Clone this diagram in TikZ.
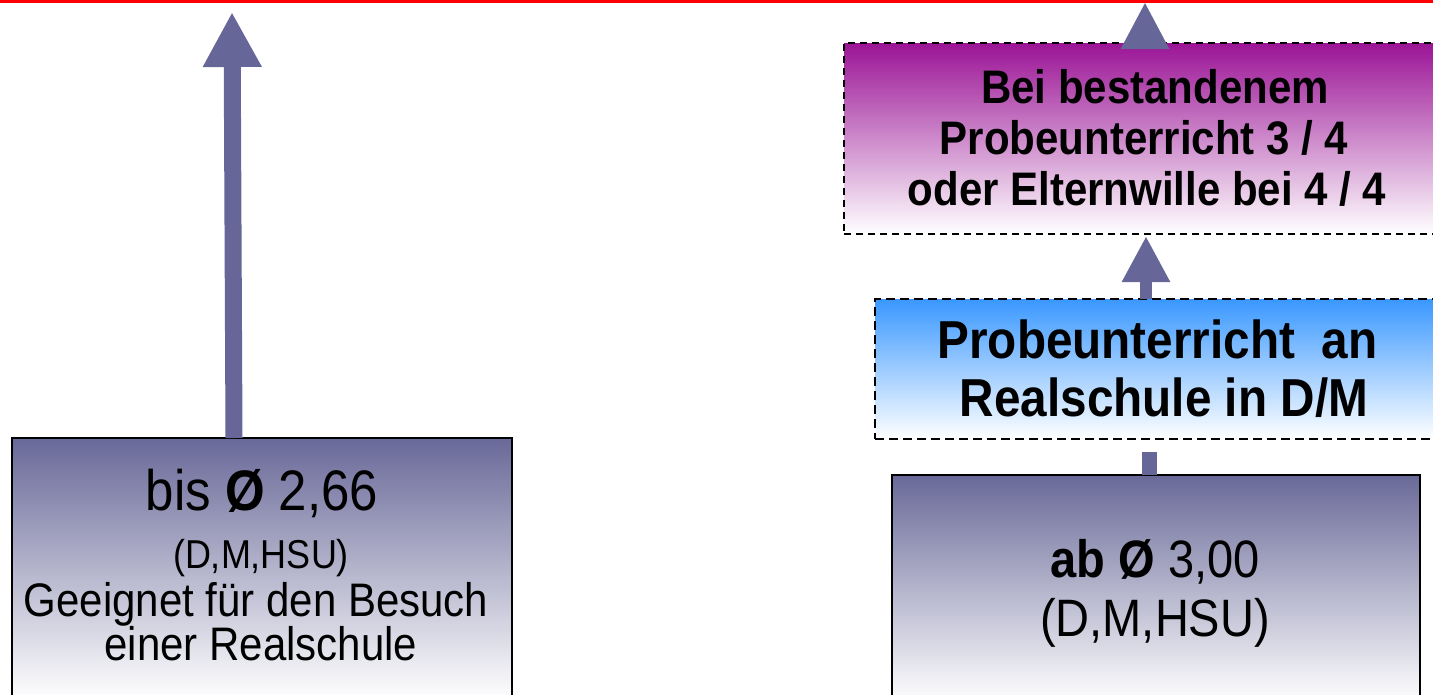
\documentclass[tikz,border=0pt]{standalone}
\usepackage{fontspec}
\setmainfont{Liberation Sans}
\usetikzlibrary{arrows.meta,calc}
\definecolor{navy}{RGB}{105,105,153}
\definecolor{arrowc}{RGB}{102,102,153}
\definecolor{purp}{RGB}{155,20,150}
\definecolor{skyb}{RGB}{58,152,255}
\tikzset{
  boxbase/.style={rectangle, anchor=north west, inner sep=0pt, outer sep=0pt},
  navybox/.style={boxbase, draw=black, line width=2pt, top color=navy, bottom color=white},
  purpbox/.style={boxbase, draw=black, line width=1.8pt, dash pattern=on 7pt off 5pt, top color=purp, bottom color=white},
  bluebox/.style={boxbase, draw=black, line width=1.8pt, dash pattern=on 9pt off 5pt, top color=skyb, bottom color=white},
  txt/.style={anchor=base, inner sep=0pt, outer sep=0pt, text=black, yscale=1.12, transform shape},
  bigarrow/.style={draw=arrowc, line width=17pt, -{Triangle[length=55pt,width=55pt,fill=arrowc]}},
  midarrow/.style={draw=arrowc, line width=12pt, -{Triangle[length=46pt,width=45pt,fill=arrowc]}},
  stub/.style={draw=arrowc, line width=15pt}
}
\begin{document}
\begin{tikzpicture}[x=1pt,y=-1pt]
\useasboundingbox (0,0) rectangle (1433,694);
\clip (0,0) rectangle (1433,694);
\fill[white] (0,0) rectangle (1433,694);
% red rule at the top
\draw[red, line width=3pt] (0,1) -- (1433,1);
% boxes
\node[navybox, minimum width=500pt, minimum height=262pt] (leftbox) at (12,438) {};
\node[purpbox, minimum width=600pt, minimum height=191pt] (purple) at (844,43) {};
\node[bluebox, minimum width=570pt, minimum height=140pt] (blue) at (875,299) {};
\node[navybox, line width=2.5pt, minimum width=528pt, minimum height=228pt] (abbox) at (892,475) {};
% left box text
\node[txt, font=\fontsize{51}{60}\selectfont] (t1) at (262,510) {bis \textbf{Ø} 2,66};
\node[txt, font=\fontsize{36}{43}\selectfont] (t2) at (261,568) {(D,M,HSU)};
\node[txt, font=\fontsize{42}{50}\selectfont] (t3) at (256,616) {Geeignet für den Besuch};
\node[txt, font=\fontsize{42}{50}\selectfont] (t4) at (261,660) {einer Realschule};
% purple box text
\node[txt, font=\fontsize{42}{50}\selectfont\bfseries] (p1) at (1155,103) {Bei bestandenem};
\node[txt, font=\fontsize{42}{50}\selectfont\bfseries] (p2) at (1144,154) {Probeunterricht 3 / 4};
\node[txt, font=\fontsize{42}{50}\selectfont\bfseries] (p3) at (1147,205) {oder Elternwille bei 4 / 4};
% blue box text
\node[txt, font=\fontsize{47.7}{57}\selectfont\bfseries] (b1) at (1157.5,358) {Probeunterricht\ \ an};
\node[txt, font=\fontsize{47.7}{57}\selectfont\bfseries] (b2) at (1164,416) {Realschule in D/M};
% bottom right box text
\node[txt, font=\fontsize{47}{56}\selectfont] (a1) at (1155,577) {\textbf{ab Ø} 3,00};
\node[txt, font=\fontsize{47}{56}\selectfont] (a2) at (1155,636) {(D,M,HSU)};
% connector end points
\coordinate (lefttip) at (232,12);
\coordinate (toptip) at (1145,2);
\coordinate (midtip) at (1146,236);
\coordinate (lowtop) at (1149,452);
% connectors
\draw[bigarrow] ([xshift=222pt]leftbox.north west) -- (lefttip);
\draw[midarrow, -{Triangle[length=47pt,width=45pt,fill=arrowc]}] ($(purple.north -| toptip)+(0,4)$) -- (toptip);
\draw[midarrow] (blue.north -| midtip) -- (midtip);
\draw[stub] (abbox.north -| lowtop) -- (lowtop);
\end{tikzpicture}
\end{document}
